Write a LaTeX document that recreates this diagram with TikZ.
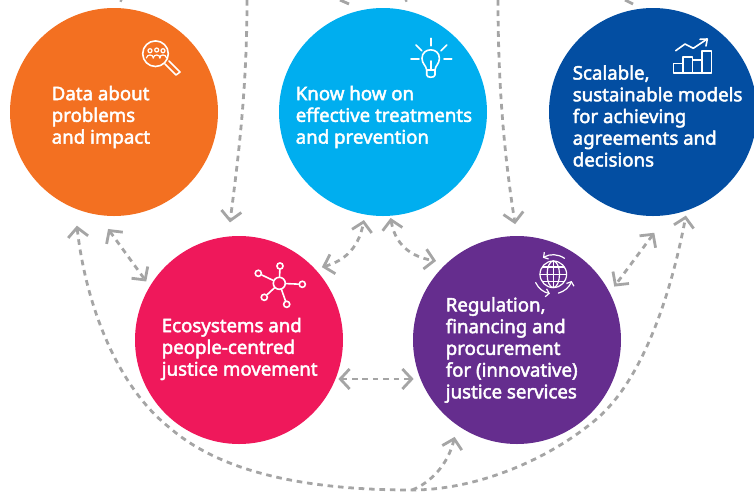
\documentclass[tikz,border=0pt]{standalone}
\usepackage{fontspec}
\setmainfont{Noto Sans}
\newfontfamily\disctxt{Noto Sans}[FakeBold=2.4]
\usetikzlibrary{arrows.meta}

\definecolor{dataorange}{HTML}{F37021}
\definecolor{knowblue}{HTML}{00AEEF}
\definecolor{modelnavy}{HTML}{034EA2}
\definecolor{ecopink}{HTML}{EF185B}
\definecolor{regpurple}{HTML}{652D8E}
\definecolor{linkgray}{HTML}{A5A5A5}

\tikzset{
  disc/.style={circle,draw=none,outer sep=0pt,inner sep=0pt,minimum size=156pt},
  txt/.style={anchor=west,inner sep=0pt,align=left,text=white,font=\disctxt\fontsize{14}{16.3}\selectfont},
  link/.style={draw=linkgray,line width=2.1pt,dash pattern={on 4.2pt off 3.6pt}},
  both/.style={link,{Straight Barb[length=7pt,width=15pt,line width=2.1pt]}-{Straight Barb[length=7pt,width=15pt,line width=2.1pt]}},
  onehead/.style={link,-{Straight Barb[length=7pt,width=15pt,line width=2.1pt]}},
  icon/.style={draw=white,line width=1.2pt,line cap=round,line join=round},
  sat/.style={circle,draw=white,line width=1.2pt,inner sep=0pt,minimum size=4.6pt},
}

\begin{document}
\begin{tikzpicture}[x=0.75pt,y=0.75pt,yscale=-1,xscale=1]
\useasboundingbox (0,0) rectangle (754,494);

% Discs
\node [disc,fill=dataorange] (data) at (114,112) {};
\node [disc,fill=knowblue] (know) at (383,112) {};
\node [disc,fill=modelnavy] (models) at (653,112) {};
\node [disc,fill=ecopink] (eco) at (239,340) {};
\node [disc,fill=regpurple] (reg) at (517,340) {};

% Text Node
\node [txt] (datatxt) at (51.5,117) {Data about\\problems\\and impact};
\node [txt] (knowtxt) at (295.5,117) {Know how on\\effective treatments\\and prevention};
\node [txt] (modelstxt) at (572.5,116) {Scalable,\\sustainable models\\for achieving\\agreements and\\decisions};
\node [txt] (ecotxt) at (161.5,349) {Ecosystems and\\people-centred\\justice movement};
\node [txt] (regtxt) at (445.5,350) {Regulation,\\financing and\\procurement\\for (innovative)\\justice services};

% Connection
\coordinate (topa) at (247,0);
\coordinate (topb) at (498,0);
\coordinate (junc) at (412,490);
\draw [onehead,shorten >=10.7pt] (topa) .. controls (247,90) and (238,160) .. (eco.96);
\draw [onehead,shorten >=9pt] (topb) .. controls (498,90) and (505,160) .. (reg.90.5);
\draw [both,shorten <=13.2pt,shorten >=4.6pt] (data.-99) -- (eco.149.4);
\draw [both,shorten <=5.3pt,shorten >=4.3pt] (eco.43.9) .. controls (340,262) and (358,252) .. (know.-100);
\draw [both,shorten <=1.7pt,shorten >=8.6pt] (know.-86.2) .. controls (396,250) and (418,258) .. (reg.132);
\draw [both,shorten <=16.6pt,shorten >=5.8pt] (models.-82.8) -- (reg.27.3);
\draw [both,shorten <=2.2pt,shorten >=5.2pt] (eco.-22.6) -- (reg.202.6);
\draw [both,shorten <=13pt,shorten >=4pt] (data.248.6) .. controls (85,300) and (115,385) .. (170,428) .. controls (230,480) and (330,490) .. (junc) .. controls (470,490) and (540,465) .. (593,422) .. controls (640,385) and (670,300) .. (models.-71.5);
\draw [onehead,shorten >=9pt] (junc) .. controls (430,483) and (448,465) .. (reg.-125.9);

% Cut tips at the top edge
\draw [linkgray,line width=2.1pt] (340,0) -- (349,4);
\draw [linkgray,line width=2.1pt] (625,0) -- (633,4);
\draw [linkgray,line width=2.1pt] (120,0) -- (122,1);
\draw [linkgray,line width=2.1pt] (407,0) -- (405,1);

% Icon lens
\draw [icon] (155.5,53.7) circle (12.8);
\draw [icon] (165,64) -- (176,75) -- (180,72) -- (169,61);
\foreach \hx/\hy in {150/50.7,156.7/50,163/50.7} {
  \draw [icon,line width=0.9pt] (\hx,\hy) circle (2);
  \draw [icon,line width=0.9pt] (\hx-3.6,58) .. controls (\hx-3,54) and (\hx+3,54) .. (\hx+3.6,58);
}

% Icon bulb
\draw [icon] (426.7,70) .. controls (426,65) and (422,64) .. (422,58.3) .. controls (422,47) and (439.4,47) .. (439.4,58.3) .. controls (439.4,64) and (435.5,65) .. (435,70) -- cycle;
\draw [icon] (426.7,70) -- (426.7,75) .. controls (426.7,78) and (435,78) .. (435,75) -- (435,70);
\draw [icon] (430.7,70) -- (430.7,61);
\draw [icon] (430.7,38.3) -- (430.7,45.7);
\draw [icon] (416,45) -- (421.7,50.7);
\draw [icon] (446.7,45) -- (441,50.7);
\draw [icon] (411,58.7) -- (419,58.7);
\draw [icon] (444,58.7) -- (451.7,58.7);

% Icon chart
\draw [icon] (673.3,72.7) rectangle (682.7,63.3);
\draw [icon] (682.7,72.7) rectangle (692.3,56.7);
\draw [icon] (692.3,72.7) rectangle (701.7,60);
\draw [icon] (701.7,72.7) rectangle (711.3,51);
\draw [icon] (675.7,50.7) -- (685,44) -- (693.3,48.3) -- (706.7,39.3);
\draw [icon] (700,39.3) -- (707.3,39) -- (706,46);

% Icon network
\node [sat,minimum size=9pt] (hub) at (279.3,283.3) {};
\node [sat] (sata) at (280,266) {};
\node [sat] (satb) at (258.3,273.3) {};
\node [sat] (satc) at (302.3,284.3) {};
\node [sat] (satd) at (286.7,304.3) {};
\node [sat] (sate) at (264.3,297.3) {};
\foreach \s in {sata,satb,satc,satd,sate} {
  \draw [icon] (hub) -- (\s);
}

% Icon globe
\coordinate (glob) at (553.3,274.3);
\draw [icon,line width=0.9pt] (glob) circle (13.3);
\draw [icon,line width=0.9pt] (glob) ellipse (6.2 and 13.3);
\draw [icon,line width=0.9pt] (540,274.3) -- (566.6,274.3);
\draw [icon,line width=0.9pt] (553.3,261) -- (553.3,287.6);
\draw [icon,line width=0.9pt] (542.5,267) -- (564.1,267);
\draw [icon,line width=0.9pt] (542.5,281.6) -- (564.1,281.6);
\draw [icon,line width=0.9pt,-{Straight Barb[length=2.5pt,width=6pt]}] (glob) ++(-55:19.5) arc [start angle=-55,end angle=-122,radius=19.5];
\draw [icon,line width=0.9pt,-{Straight Barb[length=2.5pt,width=6pt]}] (glob) ++(155:19.5) arc [start angle=155,end angle=100,radius=19.5];
\draw [icon,line width=0.9pt,-{Straight Barb[length=2.5pt,width=6pt]}] (glob) ++(75:19.5) arc [start angle=75,end angle=20,radius=19.5];

\end{tikzpicture}
\end{document}
